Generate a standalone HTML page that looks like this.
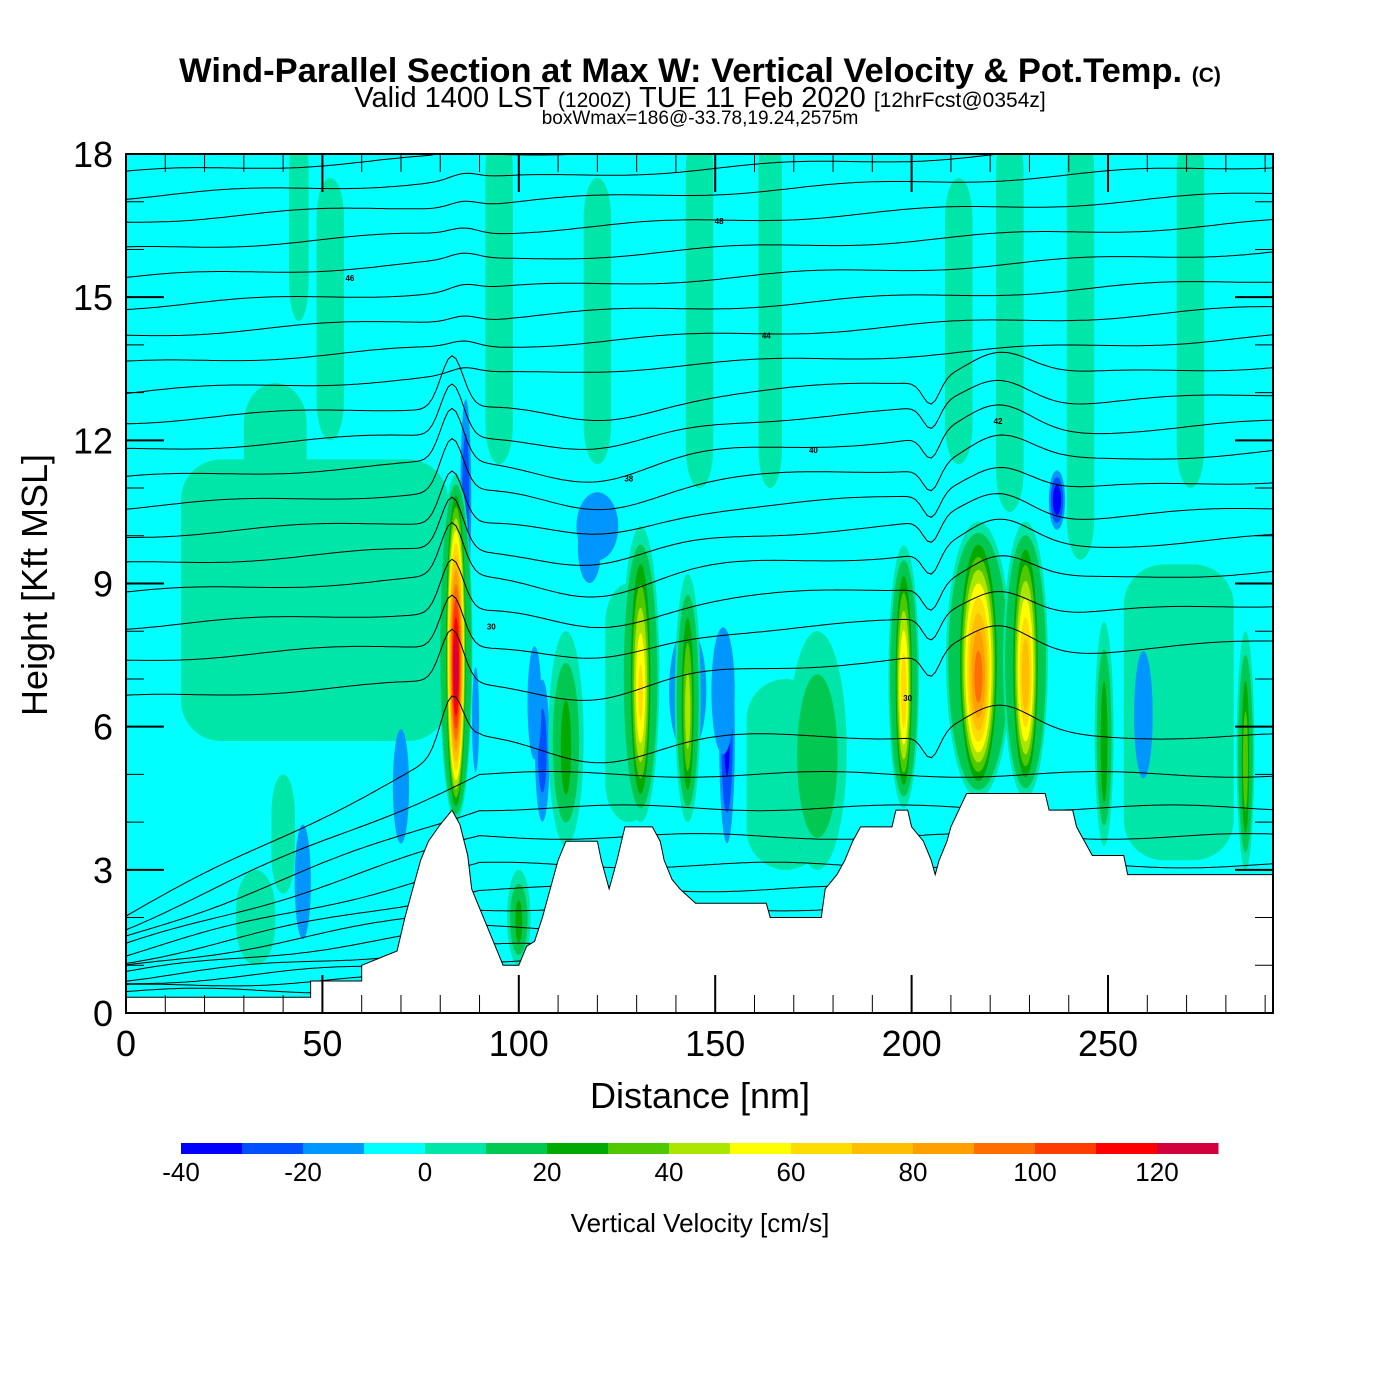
<!DOCTYPE html>
<html><head><meta charset="utf-8"><style>
html,body{margin:0;padding:0;background:#fff;}
svg{display:block;font-family:"Liberation Sans",Arial,sans-serif;}
</style></head><body>
<svg id="chart" width="1400" height="1400" viewBox="0 0 1400 1400" xmlns="http://www.w3.org/2000/svg">
<rect width="1400" height="1400" fill="#fff"/>
<text x="700" y="82" text-anchor="middle" font-size="34.5" font-weight="bold">Wind-Parallel Section at Max W: Vertical Velocity &amp; Pot.Temp. <tspan font-size="21">(C)</tspan></text>
<text x="700" y="107" text-anchor="middle" font-size="29">Valid 1400 LST <tspan font-size="21">(1200Z)</tspan> TUE 11 Feb 2020 <tspan font-size="21">[12hrFcst@0354z]</tspan></text>
<text x="700" y="124" text-anchor="middle" font-size="19">boxWmax=186@-33.78,19.24,2575m</text>
<defs><clipPath id="plotclip"><rect x="126" y="154" width="1147" height="859"/></clipPath></defs>
<g id="field" clip-path="url(#plotclip)"></g>
<g id="theta" clip-path="url(#plotclip)"></g>
<g id="terrain" clip-path="url(#plotclip)"></g>
<rect x="126" y="154" width="1147" height="859" fill="none" stroke="#000" stroke-width="2"/>
<g id="axes"></g>
<g id="cbar"></g>
<text x="700" y="1108" text-anchor="middle" font-size="36">Distance [nm]</text>
<text transform="translate(47,585) rotate(-90)" text-anchor="middle" font-size="36">Height [Kft MSL]</text>
<text x="700" y="1232" text-anchor="middle" font-size="26">Vertical Velocity [cm/s]</text>
</svg>
<script>
// ---- data ----
const xTicks = [0,50,100,150,200,250];
const yTicks = [0,3,6,9,12,15,18];
const cbarTicks = [-40,-20,0,20,40,60,80,100,120];
const levels = [-40,-30,-20,-10,0,10,20,30,40,50,60,70,80,90,100,110,120,130];
const levelColors = ["#0000ff","#0050ff","#0096ff","#00ffff","#00e6a8","#00c850","#00aa00","#50c800","#aae600","#ffff00","#ffdc00","#ffbe00","#ffa000","#ff6e00","#ff3c00","#ff0000","#d2003c"];
// terrain profile: distance (nm), height (kft)
const terrainDist = [0,47,47,60,60,69,71,73,75,77,80,83,85,87,88,90,92,94,96,100,102,104,106,108,110,112,120,121,123,125,127,134,136,137,139,141,145,163,164,177,178,181,183,185,187,195,196,199,200,203,205,206,207,209,210,212,214,234,235,241,242,244,246,254,255,292];
const terrainHt = [0.33,0.33,0.67,0.67,1.0,1.3,2.0,2.6,3.2,3.6,3.95,4.25,3.95,3.3,2.6,2.2,1.8,1.4,1.0,1.0,1.4,1.5,2.0,2.6,3.2,3.6,3.6,3.2,2.6,3.2,3.9,3.9,3.6,3.2,2.8,2.6,2.3,2.3,2.0,2.0,2.6,2.9,3.2,3.6,3.9,3.9,4.25,4.25,3.9,3.6,3.2,2.9,3.2,3.6,3.9,4.25,4.6,4.6,4.25,4.25,3.9,3.6,3.3,3.3,2.9,2.9];
// cells: center distance, bottom kft, top kft, peak w (cm/s), half-width nm
const cellDist = [48,38,52,44,95,120,146,164,212,225,243,271,268,33,40,168,128,
  70,45,86.5,106,120,143,153,172,237,284,259,100,152,104,89,170,118,
  112,100,176,84,131,143,198,217,229,249,285];
const cellBottom = [5.7,8.5,12,14.5,11.5,11.5,11,11,11.5,10.5,9.5,11,3.2,1,2.5,3,4,
  3,1,8,3.5,9,4.5,3,3,10,4,4,1,4.5,4.5,4.3,3.5,8.5,
  3.5,1,3,4,4,4,4.3,4.5,4.5,3.5,3];
const cellTop = [11.6,13.2,17.5,18.5,18.5,17.5,18.5,18.5,17.5,18.5,18.5,18.5,9.4,3,5,7,9,
  6.5,4.5,13.5,7.5,11.4,9,8.5,6.5,11.5,7.5,8.5,3,9,8.5,8,7.5,11,
  8,3,8,11.3,10.2,9.2,9.8,10.3,10.3,8.2,8];
const cellPeak = [9,9,9,9,9,9,9,9,9,9,9,9,9,9,9,9,9,
  -20,-20,-28,-25,-15,-15,-32,-28,-38,-36,-15,-15,-15,-15,-15,-15,-15,
  25,25,20,128,62,45,68,95,78,30,38];
const cellHalfWidth = [34,8,3.5,2.5,3.5,3.5,3.5,3,3.5,3.5,3.5,3.5,14,5,3,10,6,
  3,3,1.8,2.5,9,8,2.5,2,2.5,1.2,4,2,5,3,1.5,2.5,5,
  3,2,5,2.8,3.2,2.2,2.6,5.5,3.8,1.6,1.5];
// potential-temperature isoline base heights (kft) and labels
const thetaHeights = [0.5,0.8,1.1,1.4,1.8,2.2,2.6,3.1,3.7,4.3,5.0,5.8,6.6,7.4,8.1,8.8,9.4,10.0,10.6,11.2,11.8,12.4,13.0,13.6,14.2,14.8,15.4,16.0,16.6,17.1,17.6];
const thetaLabels = ["","","","","","","","","34","","","","30","","30","","","","","38","40","42","","","44","","46","","48","",""];

// ---- axes ----
const SVGNS="http://www.w3.org/2000/svg";
const X0=126,X1=1273,Y0=1013,Y1=154,DMAX=292,HMAX=18;
const X=d=>X0+d*(X1-X0)/DMAX;
const Y=h=>Y0-h*(Y0-Y1)/HMAX;
function mk(tag,attrs,parent){const e=document.createElementNS(SVGNS,tag);for(const k in attrs)e.setAttribute(k,attrs[k]);parent.appendChild(e);return e;}
const colorFor=v=>{let i=0;while(i<levels.length-2&&v>=levels[i+1])i++;return levelColors[i];};

// field
const field=document.getElementById('field');
const bg=mk('rect',{x:X0,y:Y1,width:X1-X0,height:Y0-Y1,fill:levelColors[3]},field);


for(let c=0;c<cellDist.length;c++){
  const p=cellPeak[c];
  const g=mk('g',{},field);
  
  
  const cx=X(cellDist[c]),cy=(Y(cellBottom[c])+Y(cellTop[c]))/2;
  const ry=(Y(cellBottom[c])-Y(cellTop[c]))/2, rx=X(cellHalfWidth[c])-X0;
  if(p>0&&p<10){
    const r=mk('rect',{x:cx-rx,y:cy-ry,width:2*rx,height:2*ry,rx:Math.min(rx,40),ry:Math.min(ry,40),fill:colorFor(1)},g);
    
    
  } else if(p>0){
    for(let t=0;t<p;t+=10){
      const s=Math.pow(1-t/(p+4),0.7);
      const wf=t<20?1.5:1;
      const e=mk('ellipse',{cx:cx,cy:cy+ry*(1-s)*0.15,rx:rx*s*wf,ry:ry*s,fill:colorFor(t+1)},g);
      
      
    }
  } else {
    for(let t=-10;t>p;t-=10){
      const s=Math.pow(1-t/(p-4),0.7);
      const e=mk('ellipse',{cx:cx,cy:cy,rx:rx*s,ry:ry*s,fill:colorFor(t-1)},g);
      
      
    }
  }
}

// theta lines
const theta=document.getElementById('theta');
function bump(d,c,w){const z=(d-c)/w;return Math.exp(-(z*z));}
thetaHeights.forEach((h,i)=>{
  let pts=[];
  for(let d=0;d<=DMAX;d+=1){
    let hh=h;
    if(h<6){
      const left=0.3+h*0.3;
      const f=Math.min(1,d/90);
      hh=left+(h-left)*f;
    }
    hh+=0.06*Math.sin(d*0.09+i*1.7)+0.004*d*(h>6?1:0);
    if(h>5&&h<12.5) hh+=1.1*bump(d,83,4)-0.5*bump(d,120,20)+0.6*bump(d,222,12)-0.5*bump(d,205,3);
    if(h>=12.5) hh+=0.12*bump(d,86,5);
    pts.push(X(d).toFixed(1)+','+Y(hh).toFixed(1));
  }
  const pl=mk('polyline',{points:pts.join(' '),fill:'none',stroke:'#000','stroke-width':1},theta);
  
  
  if(thetaLabels[i]){
    const ld=35+(i*47)%200;
    const t=mk('text',{x:X(ld),y:Y(h)+3,'font-size':8,'text-anchor':'middle','font-weight':'bold'},theta);
    t.textContent=thetaLabels[i];
    
    
  }
});

// terrain
const terr=document.getElementById('terrain');
let tp=[];
for(let i=0;i<terrainDist.length;i++) tp.push(X(terrainDist[i])+','+Y(terrainHt[i]));
const tpoly=mk('polygon',{points:X(0)+','+(Y0+2)+' '+tp.join(' ')+' '+X(DMAX)+','+(Y0+2),fill:'#fff',stroke:'#000','stroke-width':1},terr);



// axes ticks & labels
const axes=document.getElementById('axes');
for(let d=0;d<=DMAX;d+=10){
  const major=d%50===0;
  const len=major?38:18;
  const l=mk('line',{x1:X(d),x2:X(d),y1:Y0,y2:Y0-len,stroke:'#000','stroke-width':major?2:1},axes);
  
  
  const l2=mk('line',{x1:X(d),x2:X(d),y1:Y1,y2:Y1+len,stroke:'#000','stroke-width':major?2:1},axes);
  
  
}
xTicks.forEach(v=>{
  const t=mk('text',{x:X(v),y:1056,'text-anchor':'middle','font-size':36},axes);
  t.textContent=v;
  
  
});
for(let h=0;h<=HMAX;h+=1){
  const major=h%3===0;
  const len=major?38:18;
  const l=mk('line',{x1:X0,x2:X0+len,y1:Y(h),y2:Y(h),stroke:'#000','stroke-width':major?2:1},axes);
  
  
  const l2=mk('line',{x1:X1,x2:X1-len,y1:Y(h),y2:Y(h),stroke:'#000','stroke-width':major?2:1},axes);
  
  
}
yTicks.forEach(v=>{
  const t=mk('text',{x:113,y:Y(v)+13,'text-anchor':'end','font-size':36},axes);
  t.textContent=v;
  
  
});

// colorbar
const cb=document.getElementById('cbar');
const CB0=181,CB1=1218,CBY=1143,CBH=11;
const CX=v=>CB0+(v-levels[0])*(CB1-CB0)/(levels[levels.length-1]-levels[0]);
for(let i=0;i<levelColors.length;i++){
  const r=mk('rect',{x:CX(levels[i]),y:CBY,width:CX(levels[i+1])-CX(levels[i])+0.5,height:CBH,fill:levelColors[i]},cb);
  
  
}
cbarTicks.forEach(v=>{
  const t=mk('text',{x:CX(v),y:1181,'text-anchor':'middle','font-size':26},cb);
  t.textContent=v;
  
  
});
</script>
</body></html>
